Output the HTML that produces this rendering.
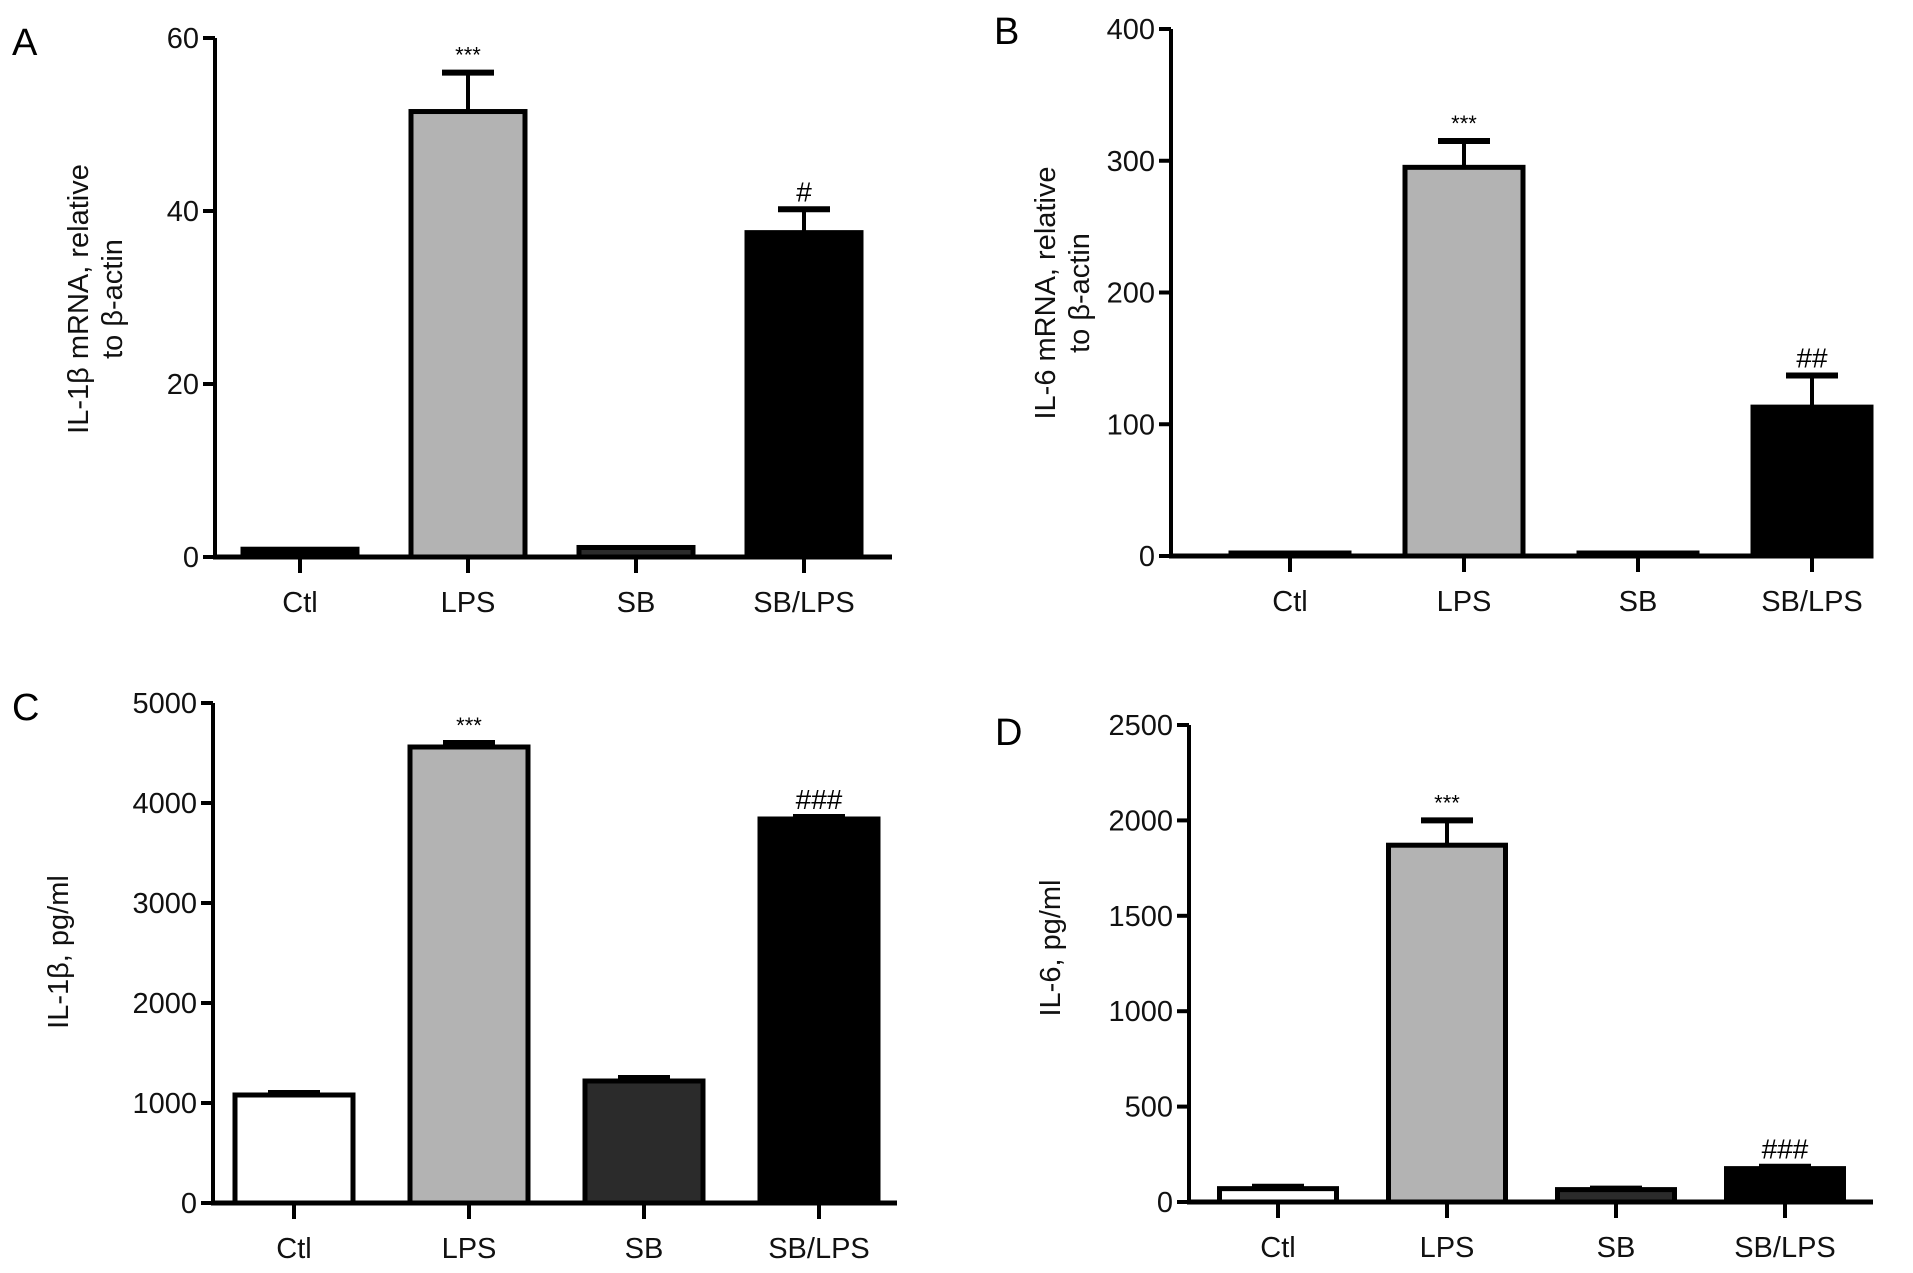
<!DOCTYPE html>
<html><head><meta charset="utf-8"><style>
html,body{margin:0;padding:0;background:#fff;}
svg{display:block;font-family:"Liberation Sans",sans-serif;}
</style></head><body>
<svg id="fig" width="1913" height="1273" viewBox="0 0 1913 1273" xmlns="http://www.w3.org/2000/svg"></svg>
<script>
const categories = ["Ctl","LPS","SB","SB/LPS"];
const fills = ["#ffffff","#b3b3b3","#2b2b2b","#000000"];
const valuesA = [0.9, 51.5, 1.1, 37.5];
const errorsA = [0, 4.5, 0, 2.7];
const ticksA = [0,20,40,60];
const marksA = ["","***","","#"];
const valuesB = [1, 295, 1, 113];
const errorsB = [0, 20, 0, 24];
const ticksB = [0,100,200,300,400];
const marksB = ["","***","","##"];
const valuesC = [1080, 4560, 1220, 3840];
const errorsC = [20, 40, 30, 20];
const ticksC = [0,1000,2000,3000,4000,5000];
const marksC = ["","***","","###"];
const valuesD = [70, 1870, 65, 175];
const errorsD = [10, 130, 5, 10];
const ticksD = [0,500,1000,1500,2000,2500];
const marksD = ["","***","","###"];

const NS="http://www.w3.org/2000/svg";
const svg=document.getElementById('fig');
function mk(tag,attrs,parent){const e=document.createElementNS(NS,tag);for(const k in attrs)e.setAttribute(k,attrs[k]);(parent||svg).appendChild(e);return e;}

function panel(p){
  const g=mk('g',{});
  
  
  const max=p.ticks[p.ticks.length-1];
  const y=v=>p.y0-(v/max)*(p.y0-p.yTop);
  const xs=i=>p.x0+p.x1st+i*p.step;
  const lab=mk('text',{x:p.lx,y:p.ly,'font-size':38,'text-anchor':'start'},g);
  lab.textContent=p.id;
  
  
  const ya=mk('line',{x1:p.x0,y1:p.yTop,x2:p.x0,y2:p.y0+2,stroke:'#000','stroke-width':4},g);
  
  
  p.ticks.forEach(t=>{
    mk('line',{x1:p.x0-12,y1:y(t),x2:p.x0,y2:y(t),stroke:'#000','stroke-width':4},g);
    const tl=mk('text',{x:p.x0-16,y:y(t)+10,'font-size':29,'text-anchor':'end',fill:'#111'},g);
    tl.textContent=t;
    
    
  });
  categories.forEach((c,i)=>{
    const cx=xs(i),w=p.bw,top=y(p.values[i]);
    if(p.errors[i]>0){
      const et=y(p.values[i]+p.errors[i]);
      mk('line',{x1:cx,y1:top,x2:cx,y2:et,stroke:'#000','stroke-width':4},g);
      mk('line',{x1:cx-26,y1:et,x2:cx+26,y2:et,stroke:'#000','stroke-width':6},g);
    }
    const h=Math.max(p.y0-top,3);
    const fill=(p.id==='A'&&i===0)?'#000':fills[i];
    const r=mk('rect',{x:cx-w/2,y:p.y0-h,width:w,height:h,fill:fill,stroke:'#000','stroke-width':5},g);
    
    
    if(p.marks[i]){
      const et=y(p.values[i]+p.errors[i]);
      const m=mk('text',{x:cx,y:et-(p.marks[i][0]==='*'?10:8),'font-size':p.marks[i][0]==='*'?22:28,'text-anchor':'middle'},g);
      m.textContent=p.marks[i];
      
      
    }
    mk('line',{x1:cx,y1:p.y0,x2:cx,y2:p.y0+16,stroke:'#000','stroke-width':4},g);
    const xl=mk('text',{x:cx,y:p.y0+55,'font-size':29,'text-anchor':'middle',fill:'#111'},g);
    xl.textContent=c;
    
    
  });
  const xa=mk('line',{x1:p.x0-2,y1:p.y0,x2:p.xEnd,y2:p.y0,stroke:'#000','stroke-width':5},g);
  
  
  const tt=mk('text',{transform:`translate(${p.tx},${p.ty}) rotate(-90)`,'font-size':29,'text-anchor':'middle',fill:'#111'},g);
  
  
  p.title.forEach((line,k)=>{const s=mk('tspan',{x:0,dy:k===0?0:34},tt);s.textContent=line;});
}

panel({id:'A',lx:12,ly:55,x0:215,yTop:38,y0:557,xEnd:892,x1st:85,step:168,bw:114,values:valuesA,errors:errorsA,ticks:ticksA,marks:marksA,tx:88,ty:299,title:['IL-1β mRNA, relative','to β-actin']});
panel({id:'B',lx:994,ly:44,x0:1171,yTop:29,y0:556,xEnd:1873,x1st:119,step:174,bw:118,values:valuesB,errors:errorsB,ticks:ticksB,marks:marksB,tx:1055,ty:293,title:['IL-6 mRNA, relative','to β-actin']});
panel({id:'C',lx:12,ly:720,x0:213,yTop:703,y0:1203,xEnd:897,x1st:81,step:175,bw:118,values:valuesC,errors:errorsC,ticks:ticksC,marks:marksC,tx:68,ty:952,title:['IL-1β, pg/ml']});
panel({id:'D',lx:995,ly:745,x0:1189,yTop:725,y0:1202,xEnd:1873,x1st:89,step:169,bw:117,values:valuesD,errors:errorsD,ticks:ticksD,marks:marksD,tx:1060,ty:948,title:['IL-6, pg/ml']});
</script>
</body></html>
